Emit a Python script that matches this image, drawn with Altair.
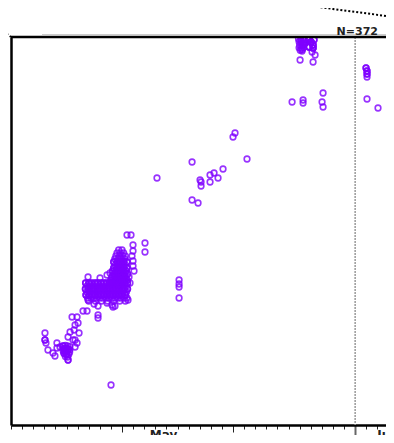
import altair as alt
import pandas as pd

# Observations as [days after 1 May, value, number of coincident observations]
early_may = [
    [3.06, 23, 1], [3.06, 21.25, 2], [3.15, 20.5, 1], [3.33, 18.75, 1], [3.78, 18, 1],
    [3.96, 17.25, 1], [4.14, 20.5, 1], [4.14, 19.25, 1], [4.41, 19.5, 1],
    [4.7, 19.75, 2], [4.9, 19.9, 1], [5.1, 19.75, 1], [5.3, 19.6, 1], [4.75, 19.1, 2],
    [4.95, 19.2, 1], [5.15, 19.0, 2], [5.3, 18.8, 1], [4.7, 18.5, 1], [4.9, 18.4, 2],
    [5.1, 18.5, 1], [5.28, 18.2, 1], [4.8, 17.8, 1], [5.0, 17.7, 2], [5.2, 17.6, 1],
    [4.9, 17.1, 1], [5.1, 17.0, 1], [4.75, 18.0, 1], [5.05, 18.9, 1], [4.85, 18.75, 1],
    [5.14, 16.25, 2], [5.32, 23.25, 1], [5.14, 22, 1], [5.59, 21.25, 1], [5.77, 21.25, 1],
    [5.77, 19.5, 1], [5.95, 20.5, 1], [6.13, 23, 1], [5.50, 27, 1], [5.95, 27, 1],
    [6.04, 25.5, 1], [5.77, 25, 1], [6.49, 28.5, 1], [6.85, 28.5, 1], [7.84, 27.5, 1],
    [7.84, 26.75, 1], [9.01, 10, 1], [5.68, 23.75, 1],
]
around_block = [
    [10.45, 47.5, 1], [10.81, 47.5, 1], [10.99, 45, 1], [10.99, 43.5, 1], [10.90, 42.25, 1],
    [10.99, 41, 1], [10.99, 39.75, 1], [11.08, 38.5, 1], [12.07, 45.5, 1], [12.07, 43.25, 1],
    [6.94, 37, 1], [8.02, 36.75, 1], [8.65, 37.5, 1], [8.92, 38, 1], [7.84, 29.75, 1],
    [9.10, 30, 1], [9.37, 29.75, 1], [6.94, 31.25, 1], [8.65, 30.5, 1], [9.19, 29.5, 1],
    [7.48, 30.25, 1], [10.54, 31.25, 1], [10.72, 35.5, 1], [10.63, 37, 1],
    [15.14, 36.25, 1], [15.14, 35.25, 1], [15.14, 34.5, 1], [15.14, 31.75, 1],
]
mid_may = [
    [13.15, 61.75, 1], [16.31, 65.75, 1], [17.03, 61.25, 1], [17.12, 60.75, 1], [17.12, 59.75, 1],
    [17.93, 62.5, 1], [18.29, 63, 1], [17.93, 60.75, 1], [18.65, 61.75, 1], [19.10, 64, 1],
    [20.18, 73, 1], [20.00, 72, 1], [21.26, 66.5, 1], [16.31, 56.25, 1], [16.85, 55.5, 1],
]
late_may = [
    [25.9, 96.5, 1], [26.1, 96.6, 1], [26.3, 96.4, 1], [26.45, 96.2, 1], [25.95, 95.8, 1],
    [26.15, 95.7, 1], [26.35, 95.6, 1], [26.0, 95.0, 1], [26.2, 94.9, 1], [26.4, 95.1, 1],
    [25.95, 94.3, 1], [26.15, 94.2, 1], [26.35, 94.4, 1], [26.05, 93.7, 1], [26.25, 93.9, 1],
    [26.5, 95.5, 1], [26.1, 96.1, 1], [26.3, 95.2, 1],
    [26.85, 96.5, 4], [27.03, 95.75, 4], [27.21, 95.0, 3], [27.21, 94.25, 3],
    [26.85, 94.5, 3], [27.3, 96.3, 2],
    [26.22, 93.5, 1], [27.12, 93.25, 1], [27.39, 92.5, 1], [26.04, 91.25, 1], [27.21, 90.75, 1],
    [25.32, 80.75, 1], [26.31, 81.25, 1], [26.31, 80.5, 1], [28.02, 80.75, 1], [28.11, 83, 1],
    [28.11, 79.5, 1],
]
june = [
    [31.98, 89.25, 2], [32.07, 88.5, 2], [32.07, 87.75, 2], [32.07, 87, 1],
    [34.32, 92.75, 1], [32.07, 81.5, 1], [33.06, 79.25, 1],
]

# Dense block around 7-11 May: rows of (value, days, multiplicity)
block_values = [35.5, 34.75, 34.0, 33.25, 32.5, 31.75, 31.0]
block_days = [
    [6.72, 7.0, 7.25, 7.55, 7.8, 8.1, 8.35, 8.6, 8.9, 9.15, 9.45, 9.7, 9.95, 10.25, 10.5],
    [6.85, 7.12, 7.4, 7.65, 7.95, 8.2, 8.48, 8.75, 9.0, 9.3, 9.55, 9.82, 10.1, 10.38],
    [6.7, 6.98, 7.28, 7.52, 7.82, 8.05, 8.33, 8.62, 8.88, 9.16, 9.42, 9.7, 9.98, 10.22, 10.5],
    [6.82, 7.1, 7.38, 7.68, 7.92, 8.22, 8.5, 8.76, 9.05, 9.3, 9.58, 9.85, 10.12, 10.4],
    [6.75, 7.02, 7.3, 7.55, 7.85, 8.12, 8.38, 8.65, 8.95, 9.2, 9.48, 9.75, 10.02, 10.3],
    [6.9, 7.2, 7.45, 7.72, 8.0, 8.28, 8.55, 8.82, 9.1, 9.38, 9.62, 9.9, 10.18, 10.45],
    [7.0, 7.6, 8.15, 8.7, 9.25, 9.8, 10.3],
]
block_mult = [2, 1, 2, 1, 2, 1, 1]

# Rising column at 10-11 May
column_values = [43.75, 43.0, 42.25, 41.5, 40.75, 40.0, 39.25, 38.5, 37.75, 37.0, 36.25]
column_days = [
    [9.7, 10.0],
    [9.55, 9.85, 10.15],
    [9.45, 9.75, 10.05, 10.3],
    [9.35, 9.65, 9.95, 10.25],
    [9.25, 9.55, 9.85, 10.15, 10.45],
    [9.4, 9.7, 10.0, 10.3],
    [9.25, 9.55, 9.85, 10.15, 10.45],
    [9.15, 9.45, 9.75, 10.05, 10.35],
    [9.3, 9.6, 9.9, 10.2, 10.5],
    [9.1, 9.4, 9.7, 10.0, 10.3],
    [9.0, 9.25, 9.55, 9.85, 10.15, 10.45],
]
column_mult = [1, 1, 1, 1, 2, 1, 2, 2, 2, 2, 2]

month_labels = ["May", "Jun"]
month_label_days = [12.5, 33.0]
n_label = "N=372"

start = pd.Timestamp("2020-05-01")
fmt = "%Y-%m-%dT%H:%M:%S"


def ts(d):
    return (start + pd.Timedelta(days=d)).strftime(fmt)


rows = []
for group in (early_may, around_block, mid_may, late_may, june):
    for d, v, c in group:
        rows += [{"t": ts(d), "v": v}] * c
for vals, days_, mult in ((block_values, block_days, block_mult),
                          (column_values, column_days, column_mult)):
    for v, ds, m in zip(vals, days_, mult):
        for d in ds:
            rows += [{"t": ts(d), "v": v}] * m
df = pd.DataFrame(rows)

labels_df = pd.DataFrame({"t": [ts(d) for d in month_label_days], "label": month_labels})
june_df = pd.DataFrame({"t": ["2020-06-01T00:00:00"]})
ntext_df = pd.DataFrame({"t": [ts(33.06)], "label": [n_label]})

W, H = 383, 388

xscale = alt.Scale(domain=[alt.DateTime(year=2020, month=5, date=1),
                           alt.DateTime(year=2020, month=6, date=4, hours=12)])
yscale = alt.Scale(domain=[0, 97])

june1 = "month(datum.value) == 5 && date(datum.value) == 1"
dekad = "date(datum.value) == 11 || date(datum.value) == 21"

xaxis = alt.Axis(
    title=None, labels=False, grid=False,
    domain=True, domainColor="black", domainWidth=2.5,
    tickCount={"interval": "day", "step": 1},
    tickSize={"condition": [{"test": june1, "value": 13}, {"test": dekad, "value": 7}], "value": 4},
    tickWidth={"condition": {"test": june1, "value": 2}, "value": 1},
    tickColor={"condition": {"test": june1, "value": "#666666"}, "value": "#222222"},
)
yaxis = alt.Axis(title=None, labels=False, ticks=False, grid=False,
                 domain=True, domainColor="black", domainWidth=2.5)

points = alt.Chart(df).mark_point(
    filled=False, size=32, strokeWidth=1.6, color="#7f00ff", opacity=0.8, clip=True
).encode(
    x=alt.X("t:T", scale=xscale, axis=xaxis),
    y=alt.Y("v:Q", scale=yscale, axis=yaxis),
)

june_rule = alt.Chart(june_df).mark_rule(
    color="#999999", strokeWidth=1.5, strokeDash=[2, 1]
).encode(x="t:T")

top_border = alt.Chart(june_df).mark_rule(color="black", strokeWidth=2.5).encode(y=alt.value(0))
top_grey = alt.Chart(june_df).mark_rule(color="#cccccc", strokeWidth=1).encode(
    x=alt.value(31), x2=alt.value(W), y=alt.value(-2.5))

connectors = [
    alt.Chart(june_df).mark_rule(color="black", strokeWidth=2, strokeDash=[2, 2]).encode(
        x=alt.value(x1), x2=alt.value(x2), y=alt.value(y1), y2=alt.value(y2))
    for (x1, y1, x2, y2) in [(-11, -8, 0, 0), (254, -37, 383, -20), (352, -35, 383, -30)]
]

ntext = alt.Chart(ntext_df).mark_text(
    align="right", baseline="alphabetic", font="DejaVu Sans", fontWeight="bold",
    fontSize=11, color="#222222"
).encode(x="t:T", y=alt.value(-2), text="label:N")

month_text = alt.Chart(labels_df).mark_text(
    align="left", baseline="top", font="DejaVu Sans", fontWeight="bold",
    fontSize=12, color="#222222"
).encode(x="t:T", y=alt.value(393), text="label:N")

chart = alt.layer(
    june_rule, points, top_grey, top_border, *connectors, ntext, month_text
).properties(
    width=W, height=H,
    autosize=alt.AutoSizeParams(type="none"),
    padding={"left": 3, "top": 29, "right": -8, "bottom": 10},
).configure_view(stroke=None)

chart.save("out.html", embed_options={"renderer": "svg", "actions": False})
